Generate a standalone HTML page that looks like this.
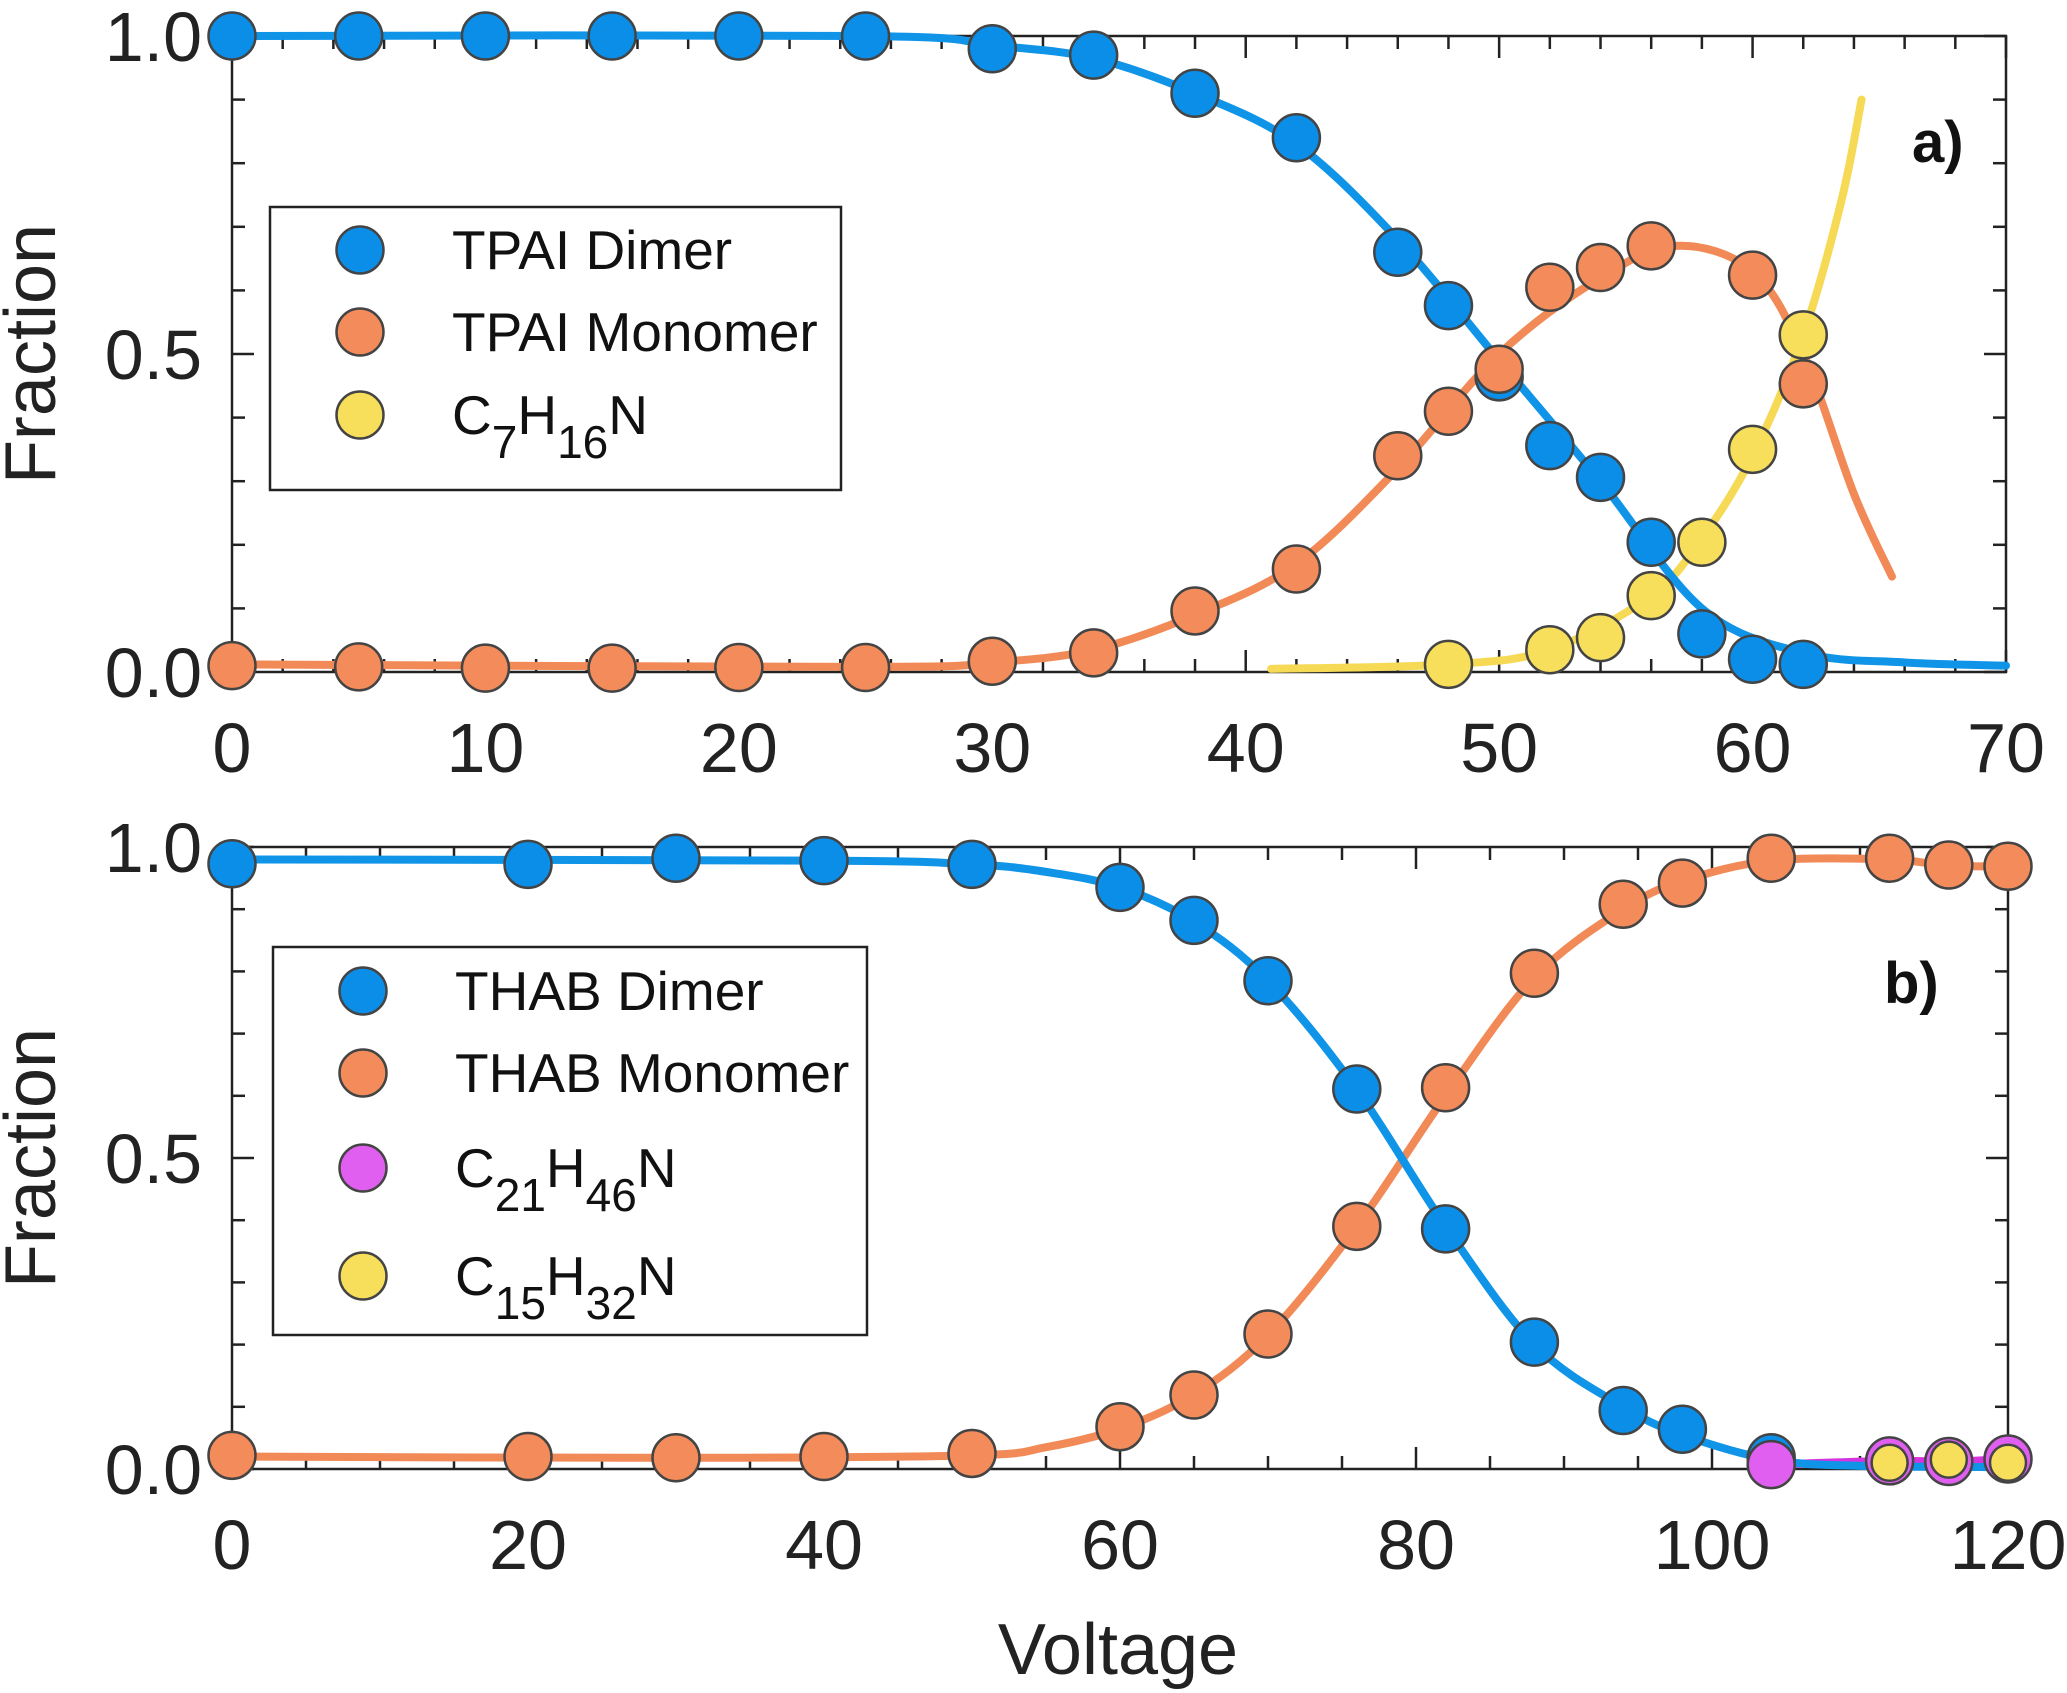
<!DOCTYPE html>
<html><head><meta charset="utf-8"><style>
html,body{margin:0;padding:0;background:#fff}
svg{display:block;font-family:"Liberation Sans","DejaVu Sans",sans-serif}
</style></head><body>
<svg id="chart" width="2067" height="1693" viewBox="0 0 2067 1693" xmlns="http://www.w3.org/2000/svg">
<g id="pa"></g>
<g id="pb"></g>
<text x="1118" y="1674" font-size="72" text-anchor="middle" fill="#222">Voltage</text>
</svg>
<script>
// ---- Panel a data ----
const aDimerX = [0,5,10,15,20,25,30,34,38,42,46,48,50,52,54,56,58,60,62];
const aDimerY = [1.0,1.0,1.0,1.0,1.0,1.0,0.98,0.97,0.91,0.84,0.66,0.576,0.464,0.356,0.306,0.204,0.06,0.02,0.012];
const aDimerFitX = [0,25,30,34,38,42,46,50,54,58,62,66,70];
const aDimerFitY = [1.0,1.0,0.985,0.965,0.91,0.83,0.68,0.49,0.3,0.1,0.03,0.015,0.01];
const aMonoX = [0,5,10,15,20,25,30,34,38,42,46,48,50,52,54,56,60,62];
const aMonoY = [0.01,0.008,0.006,0.006,0.007,0.007,0.017,0.03,0.096,0.162,0.34,0.41,0.476,0.605,0.636,0.67,0.624,0.453];
const aMonoFitX = [0,25,30,34,38,42,46,50,54,57,60,62,64,65.5];
const aMonoFitY = [0.012,0.008,0.015,0.035,0.09,0.17,0.32,0.5,0.62,0.67,0.63,0.5,0.28,0.15];
const aC7X = [48,52,54,56,58,60,62];
const aC7Y = [0.012,0.035,0.054,0.12,0.204,0.35,0.53];
const aC7FitX = [41,48,52,56,58,60,62,63.5,64.3];
const aC7FitY = [0.005,0.012,0.035,0.12,0.21,0.34,0.53,0.74,0.9];
const aXTicks = [0,10,20,30,40,50,60,70];
const aYTicks = ["0.0","0.5","1.0"];
// ---- Panel b data ----
const bDimerX = [0,20,30,40,50,60,65,70,76,82,88,94,98,104];
const bDimerY = [0.973,0.972,0.982,0.978,0.972,0.935,0.882,0.785,0.611,0.386,0.204,0.094,0.064,0.018];
const bDimerFitX = [0,40,50,55,60,65,70,76,82,88,94,98,104,110,120];
const bDimerFitY = [0.98,0.978,0.972,0.96,0.935,0.88,0.785,0.61,0.39,0.2,0.1,0.055,0.015,0.005,0.003];
const bMonoX = [0,20,30,40,50,60,65,70,76,82,88,94,98,104,112,116,120];
const bMonoY = [0.022,0.02,0.018,0.02,0.025,0.068,0.119,0.217,0.39,0.613,0.797,0.908,0.942,0.982,0.982,0.971,0.969];
const bMonoFitX = [0,30,50,55,60,65,70,76,82,88,94,98,104,112,116,120];
const bMonoFitY = [0.02,0.018,0.022,0.035,0.065,0.12,0.215,0.39,0.6,0.79,0.9,0.945,0.978,0.98,0.97,0.969];
const bC21X = [104,112,116,120];
const bC21Y = [0.007,0.013,0.012,0.016];
const bC15X = [112,116,120];
const bC15Y = [0.01,0.015,0.01];
const bXTicks = [0,20,40,60,80,100,120];
const bYTicks = ["0.0","0.5","1.0"];

const NS = "http://www.w3.org/2000/svg";
function mk(tag, parent, attrs){const e=document.createElementNS(NS,tag);for(const k in attrs)e.setAttribute(k,attrs[k]);parent.appendChild(e);return e;}
function axes(x0,x1,xmax,y0,y1){return {sx:v=>x0+(x1-x0)*v/xmax, sy:v=>y0+(y1-y0)*v, x0,x1,y0,y1};}
function smooth(ax,xs,ys){const p=xs.map((x,i)=>[ax.sx(x),ax.sy(ys[i])]);let d="M"+p[0][0]+","+p[0][1];
 for(let i=0;i<p.length-1;i++){const a=p[Math.max(0,i-1)],b=p[i],c=p[i+1],e=p[Math.min(p.length-1,i+2)];
  const c1=[b[0]+(c[0]-a[0])/6,b[1]+(c[1]-a[1])/6],c2=[c[0]-(e[0]-b[0])/6,c[1]-(e[1]-b[1])/6];
  d+=" C"+c1[0]+","+c1[1]+" "+c2[0]+","+c2[1]+" "+c[0]+","+c[1];}return d;}

function frame(g,ax,xmax,minorStep,majorStep,xticks,yticks,name){
 const r=mk('rect',g,{x:ax.x0,y:ax.y1,width:ax.x1-ax.x0,height:ax.y0-ax.y1,fill:'none',stroke:'#222','stroke-width':2.5});
 
 
 for(let v=0;v<=xmax+1e-9;v+=minorStep){const X=ax.sx(v);const L=(Math.abs(v/majorStep-Math.round(v/majorStep))<1e-6)?22:13;
  mk('line',g,{x1:X,y1:ax.y0,x2:X,y2:ax.y0-L,stroke:'#222','stroke-width':2.5});
  mk('line',g,{x1:X,y1:ax.y1,x2:X,y2:ax.y1+L,stroke:'#222','stroke-width':2.5});}
 for(let k=0;k<=10;k++){const Y=ax.sy(k/10);const L=(k%5===0)?22:13;
  mk('line',g,{x1:ax.x0,y1:Y,x2:ax.x0+L,y2:Y,stroke:'#222','stroke-width':2.5});
  mk('line',g,{x1:ax.x1,y1:Y,x2:ax.x1-L,y2:Y,stroke:'#222','stroke-width':2.5});}
 xticks.forEach(v=>{const t=mk('text',g,{x:ax.sx(v),y:ax.y0+100,'font-size':70,'text-anchor':'middle',fill:'#222'});t.textContent=v;
  
  });
 yticks.forEach(s=>{const t=mk('text',g,{x:202,y:ax.sy(parseFloat(s))+25,'font-size':70,'text-anchor':'end',fill:'#222'});t.textContent=s;
  
  });
 const yc=(ax.y0+ax.y1)/2;
 const tt=mk('text',g,{x:0,y:0,'font-size':72,'text-anchor':'middle',fill:'#222',transform:'translate(55,'+yc+') rotate(-90)'});tt.textContent='Fraction';
 
 
}
function line(g,ax,xs,ys,col,w,name){const p=mk('path',g,{d:smooth(ax,xs,ys),fill:'none',stroke:col,'stroke-width':w,'stroke-linecap':'round'});
 
 }
function dots(g,ax,xs,ys,col,name){xs.forEach((x,i)=>{const c=mk('circle',g,{cx:ax.sx(x),cy:ax.sy(ys[i]),r:23.5,fill:col,stroke:'#444','stroke-width':2.5});
 
 });}
function legend(g,x,y,w,h,items,name){const r=mk('rect',g,{x:x,y:y,width:w,height:h,fill:'#fff',stroke:'#222','stroke-width':2.5});
 
 
 items.forEach(it=>{const c=mk('circle',g,{cx:x+90,cy:it.y,r:23.5,fill:it.col,stroke:'#444','stroke-width':2.5});
  
  
  const t=mk('text',g,{x:x+182,y:it.y+19,'font-size':55,fill:'#111'});
  
  
  it.parts.forEach(p=>{const s=mk('tspan',t,{});s.textContent=p[0];if(p[1]==='sub'){s.setAttribute('font-size','46');s.setAttribute('dy','24');}else if(p[1]==='up'){s.setAttribute('dy','-24');}});
 });}

const BLUE='#0a8ee8',OR='#f38c5a',YEL='#f7df5c',MAG='#e05ff0';
// Panel a
const ga=document.getElementById('pa');
const A=axes(232,2006,70,672,36);
frame(ga,A,70,2,10,aXTicks,aYTicks,'panel-a');
line(ga,A,aC7FitX,aC7FitY,'#f6da55',8,'c7h16n-fit-line');
line(ga,A,aMonoFitX,aMonoFitY,'#f28a57',8,'tpai-monomer-fit-line');
line(ga,A,aDimerFitX,aDimerFitY,'#0f94e8',8,'tpai-dimer-fit-line');
dots(ga,A,aDimerX,aDimerY,BLUE,'tpai-dimer-point');
dots(ga,A,aMonoX,aMonoY,OR,'tpai-monomer-point');
dots(ga,A,aC7X,aC7Y,YEL,'c7h16n-point');
legend(ga,270,207,571,283,[
 {y:250,col:BLUE,parts:[['TPAI Dimer']]},
 {y:332,col:OR,parts:[['TPAI Monomer']]},
 {y:415,col:YEL,parts:[['C'],['7','sub'],['H','up'],['16','sub'],['N','up']]}],'panel-a-legend');
const la=mk('text',ga,{x:1912,y:162,'font-size':58,'font-weight':'bold',fill:'#111'});la.textContent='a)';


// Panel b
const gb=document.getElementById('pb');
const B=axes(232,2008,120,1469,847);
frame(gb,B,120,5,20,bXTicks,bYTicks,'panel-b');
line(gb,B,bMonoFitX,bMonoFitY,'#f28a57',8,'thab-monomer-fit-line');
line(gb,B,bC21X,bC21Y,'#d633e0',8,'c21h46n-line');
line(gb,B,bDimerFitX,bDimerFitY,'#0f94e8',8,'thab-dimer-fit-line');
dots(gb,B,bDimerX,bDimerY,BLUE,'thab-dimer-point');
dots(gb,B,bMonoX,bMonoY,OR,'thab-monomer-point');
dots(gb,B,bC21X,bC21Y,MAG,'c21h46n-point');
bC15X.forEach((x,i)=>{const c=mk('circle',gb,{cx:B.sx(x),cy:B.sy(bC15Y[i]),r:18,fill:YEL,stroke:'#444','stroke-width':2.5});
 
 });
legend(gb,273,947,594,388,[
 {y:991,col:BLUE,parts:[['THAB Dimer']]},
 {y:1073,col:OR,parts:[['THAB Monomer']]},
 {y:1168,col:MAG,parts:[['C'],['21','sub'],['H','up'],['46','sub'],['N','up']]},
 {y:1276,col:YEL,parts:[['C'],['15','sub'],['H','up'],['32','sub'],['N','up']]}],'panel-b-legend');
const lb=mk('text',gb,{x:1884,y:1003,'font-size':58,'font-weight':'bold',fill:'#111'});lb.textContent='b)';


</script>
</body></html>
